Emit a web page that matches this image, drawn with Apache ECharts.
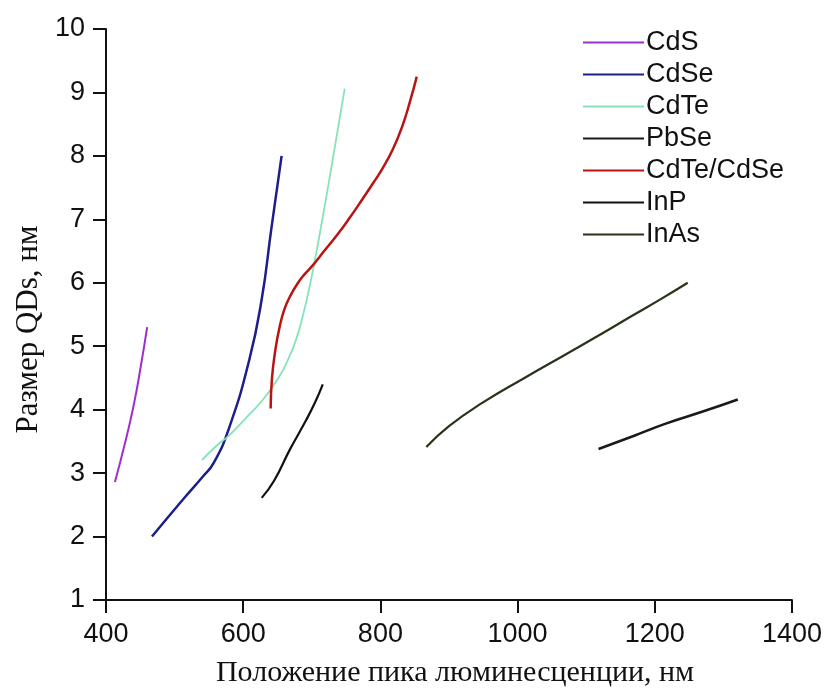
<!DOCTYPE html>
<html>
<head>
<meta charset="utf-8">
<script src="https://cdn.jsdelivr.net/npm/echarts@6/dist/echarts.min.js"></script>
<style>html,body{margin:0;padding:0;background:#fff}#c{width:825px;height:693px}</style>
</head>
<body>
<div id="c"></div>
<script>
const xTicks = [400, 600, 800, 1000, 1200, 1400];
const yTicks = [1, 2, 3, 4, 5, 6, 7, 8, 9, 10];
const seriesNames = ['CdS', 'CdSe', 'CdTe', 'PbSe', 'CdTe/CdSe', 'InP', 'InAs'];

const cdsData = [[413,2.86],[426,3.4],[440,4.05],[451,4.7],[460,5.3]];
const cdseData = [[467,2.0],[490,2.3],[515,2.62],[540,2.93],[557,3.16],[580,3.73],[609,4.79],[627,5.74],[641,6.85],[656,8.0]];
const cdteData = [[540,3.21],[560,3.42],[580,3.6],[605,3.88],[629,4.16],[653,4.53],[665,4.78],[677,5.1],[687,5.48],[697,5.95],[707,6.5],[717,7.1],[727,7.72],[737,8.36],[748,9.06]];
const pbseData = [[1118,3.38],[1170,3.59],[1216,3.78],[1270,3.97],[1321,4.16]];
const cdteCdseData = [[640,4.02],[642,4.5],[647,4.95],[653,5.3],[660,5.58],[668,5.78],[680,6.0],[690,6.14],[701,6.27],[718,6.5],[736,6.74],[755,7.02],[774,7.32],[790,7.58],[803,7.8],[818,8.1],[832,8.47],[843,8.85],[853,9.25]];
const inpData = [[627,2.61],[645,2.88],[668,3.37],[692,3.84],[705,4.12],[716,4.4]];
const inasData = [[867,3.41],[900,3.74],[949,4.11],[1010,4.5],[1070,4.87],[1120,5.18],[1167,5.48],[1210,5.75],[1248,6.0]];

const dataSets = [cdsData, cdseData, cdteData, pbseData, cdteCdseData, inpData, inasData];
const colors = ['#9b30d0', '#1c1f8a', '#86e3b8', '#1a1a1a', '#b81414', '#111111', '#27331a'];
const widths = [2, 2.5, 1.8, 2.6, 2.5, 2.2, 2.2];

const chart = echarts.init(document.getElementById('c'));
chart.setOption({
  animation: false,
  backgroundColor: '#fff',
  grid: { left: 106, right: 32, top: 29, bottom: 93 },
  xAxis: {
    type: 'value', min: 400, max: 1400, interval: 200,
    axisLine: { show: true, lineStyle: { color: '#111', width: 2 } },
    axisTick: { show: true, length: 13, inside: false, lineStyle: { color: '#111', width: 2 } },
    axisLabel: { color: '#111', fontSize: 27, fontFamily: 'Liberation Sans, Arial', margin: 21,
      formatter: v => xTicks.includes(v) ? String(v) : '' },
    splitLine: { show: false },
    name: 'Положение пика люминесценции, нм', nameLocation: 'middle', nameGap: 58,
    nameTextStyle: { color: '#111', fontSize: 30, fontFamily: 'Liberation Serif, Times New Roman', padding: [0, 0, 0, 12] }
  },
  yAxis: {
    type: 'value', min: 1, max: 10, interval: 1,
    axisLine: { show: true, lineStyle: { color: '#111', width: 2 } },
    axisTick: { show: true, length: 13, inside: false, lineStyle: { color: '#111', width: 2 } },
    axisLabel: { color: '#111', fontSize: 27, fontFamily: 'Liberation Sans, Arial', margin: 21,
      formatter: v => yTicks.includes(v) ? String(v) : '' },
    splitLine: { show: false },
    name: 'Размер QDs, нм', nameLocation: 'middle', nameGap: 60,
    nameTextStyle: { color: '#111', fontSize: 31, fontFamily: 'Liberation Serif, Times New Roman', padding: [0, 30, 0, 0] }
  },
  legend: {
    orient: 'vertical', left: 578, top: 24,
    icon: 'rect', itemWidth: 61, itemHeight: 2, itemGap: 5,
    data: seriesNames.map((n, i) => ({ name: n, itemStyle: { color: colors[i] } })),
    textStyle: { color: '#111', fontSize: 27, fontFamily: 'Liberation Sans, Arial', lineHeight: 24, padding: [0, 0, 0, -3] }
  },
  series: seriesNames.map((n, i) => ({
    name: n, type: 'line', data: dataSets[i], smooth: 0.5, showSymbol: false,
    color: colors[i],
    lineStyle: { color: colors[i], width: widths[i] }
  }))
});
</script>
</body>
</html>
